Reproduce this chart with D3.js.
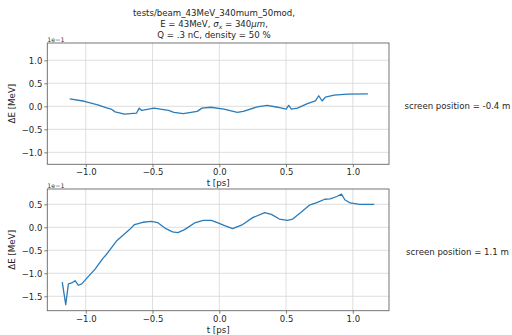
<!DOCTYPE html>
<html><head><meta charset="utf-8">
<script src="https://cdn.jsdelivr.net/npm/d3@7"></script>
<style>
body{margin:0;background:#fff;}
svg{display:block;font-family:"DejaVu Sans",sans-serif;}
</style></head>
<body><svg id="c" width="512" height="335"></svg>
<script>
// Top panel (screen position = -0.4 m): time [ps], dE [1e-1 MeV]
const tTop = [-1.12,-1.01,-0.91,-0.85,-0.81,-0.78,-0.71,-0.62,-0.60,-0.58,-0.49,-0.38,-0.34,-0.27,-0.165,-0.13,-0.065,0.035,0.135,0.18,0.285,0.36,0.435,0.50,0.52,0.54,0.585,0.66,0.72,0.745,0.77,0.795,0.86,0.96,1.113];
const eTop = [0.16,0.11,0.03,-0.03,-0.06,-0.12,-0.17,-0.15,-0.04,-0.09,-0.04,-0.09,-0.13,-0.16,-0.11,-0.04,-0.02,-0.06,-0.13,-0.11,-0.01,0.02,-0.02,-0.06,0.02,-0.06,-0.04,0.06,0.12,0.23,0.115,0.20,0.245,0.265,0.27];
// Bottom panel (screen position = 1.1 m)
const tBot = [-1.176,-1.15,-1.13,-1.105,-1.08,-1.055,-1.03,-0.99,-0.93,-0.87,-0.845,-0.77,-0.672,-0.635,-0.573,-0.51,-0.46,-0.40,-0.35,-0.31,-0.26,-0.185,-0.12,-0.06,-0.01,0.04,0.10,0.175,0.25,0.34,0.39,0.45,0.51,0.55,0.61,0.675,0.73,0.79,0.83,0.88,0.915,0.94,0.98,1.05,1.16];
const eBot = [-1.19,-1.68,-1.23,-1.21,-1.16,-1.26,-1.23,-1.10,-0.91,-0.67,-0.59,-0.30,-0.05,0.06,0.11,0.13,0.10,-0.03,-0.10,-0.115,-0.05,0.095,0.15,0.15,0.095,0.035,-0.03,0.06,0.21,0.32,0.28,0.18,0.15,0.18,0.32,0.48,0.535,0.61,0.62,0.67,0.72,0.60,0.53,0.50,0.50];
const xTicks = [-1.0,-0.5,0.0,0.5,1.0];
const yTicksTop = [-1.0,-0.5,0.0,0.5,1.0];
const yTicksBot = [-1.5,-1.0,-0.5,0.0,0.5];
const titleLines = ["tests/beam_43MeV_340mum_50mod,", null, "Q = .3 nC, density = 50 %"];
const screenLabels = ["screen position = -0.4 m","screen position = 1.1 m"];

const svg = d3.select("#c");
const L=47.3, R=389;
const x = d3.scaleLinear().domain([-1.288,1.271]).range([L,R]);
const fmt = v => (v<0?"\u2212":"")+Math.abs(v).toFixed(1);

function panel(top,bottom,ydom,yticks,tt,ee,label){
  const y = d3.scaleLinear().domain(ydom).range([bottom,top]);
  const g = svg.append("g");
  g.selectAll(".gx").data(xTicks).join("line")
    .attr("x1",d=>x(d)).attr("x2",d=>x(d)).attr("y1",top).attr("y2",bottom)
    .attr("stroke","#d6d6d6").attr("stroke-width",0.8);
  g.selectAll(".gy").data(yticks).join("line")
    .attr("x1",L).attr("x2",R).attr("y1",d=>y(d)).attr("y2",d=>y(d))
    .attr("stroke","#d6d6d6").attr("stroke-width",0.8);
  const ax = d3.axisBottom(x).tickValues(xTicks).tickFormat(fmt).tickSize(3).tickPadding(2);
  const ay = d3.axisLeft(y).tickValues(yticks).tickFormat(fmt).tickSize(3).tickPadding(2);
  const gx = g.append("g").attr("transform",`translate(0,${bottom})`).call(ax);
  const gy = g.append("g").attr("transform",`translate(${L},0)`).call(ay);
  [gx,gy].forEach(a=>{
    a.select(".domain").remove();
    a.selectAll("text").attr("font-family","DejaVu Sans").attr("font-size",8.5).attr("fill","#262626");
    a.selectAll("line").attr("stroke","#444").attr("stroke-width",0.7);
  });
  const line = d3.line().x((d,i)=>x(tt[i])).y((d,i)=>y(ee[i]));
  g.append("path").datum(ee).attr("d",line).attr("fill","none")
    .attr("stroke","#2a7bb8").attr("stroke-width",1.3).attr("stroke-linejoin","round");
  g.append("rect").attr("x",L).attr("y",top).attr("width",R-L).attr("height",bottom-top)
    .attr("fill","none").attr("stroke","#666").attr("stroke-width",0.9);
  g.append("text").attr("x",L).attr("y",top-1.5).attr("font-size",6.3).attr("fill","#333").text("1e\u22121");
  g.append("text").attr("x",(L+R)/2).attr("y",bottom+22).attr("text-anchor","middle")
    .attr("font-size",8.7).attr("fill","#262626").text("t [ps]");
  g.append("text").attr("transform",`translate(15,${(top+bottom)/2}) rotate(-90)`)
    .attr("text-anchor","middle").attr("font-size",8.7).attr("fill","#262626").text("\u0394E [MeV]");
  g.append("text").attr("x",457.5).attr("y",(top+bottom)/2+5).attr("text-anchor","middle")
    .attr("font-size",8.6).attr("fill","#262626").text(label);
}
panel(43,164.3,[-1.26,1.376],yTicksTop,tTop,eTop,screenLabels[0]);
panel(189,310.7,[-1.813,0.833],yTicksBot,tBot,eBot,screenLabels[1]);

const tg = svg.append("g").attr("font-size",8.6).attr("fill","#262626").attr("text-anchor","middle");
tg.append("text").attr("x",214).attr("y",16).text(titleLines[0]);
const t2 = tg.append("text").attr("x",214).attr("y",27);
t2.append("tspan").text("E = 43MeV, ");
t2.append("tspan").attr("font-style","italic").text("\u03c3");
t2.append("tspan").attr("font-style","italic").attr("font-size",6).attr("dy",1.5).text("x");
t2.append("tspan").attr("dy",-1.5).text(" = 340");
t2.append("tspan").attr("font-style","italic").text("\u03bcm");
t2.append("tspan").text(",");
tg.append("text").attr("x",214).attr("y",37.5).text(titleLines[2]);
</script></body></html>
